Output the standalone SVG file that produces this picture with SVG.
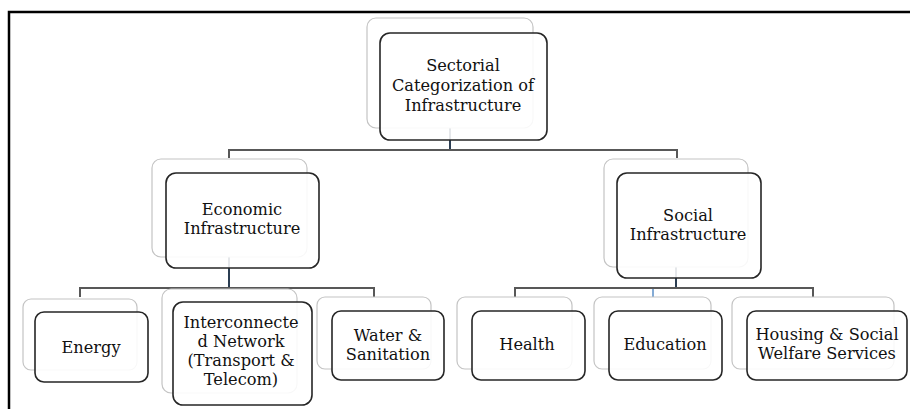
<svg xmlns="http://www.w3.org/2000/svg" width="910" height="409" viewBox="0 0 910 409">
<style>
.back{fill:#ffffff;fill-opacity:0.9;stroke:#c4c4c4;stroke-width:1.2}
.front{fill:#ffffff;fill-opacity:0.88;stroke:#262626;stroke-width:1.6}
text{font-family:'DejaVu Serif','Liberation Serif',serif;font-size:16.2px;fill:#111111;text-anchor:middle}
.h{fill:none;stroke:#585858;stroke-width:2}
.v{fill:none;stroke:#2b3d52;stroke-width:2}
.frame{fill:none;stroke:#000;stroke-width:2.5}
</style>
<rect x="0" y="0" width="910" height="409" fill="#ffffff"/>
<path class="frame" d="M9,409 V12 H910"/>
<g id="connectors">
<path class="v" d="M450,128 V150"/>
<path class="h" d="M229,158 V150 H677 V158"/>
<path class="v" d="M229,257 V288"/>
<path class="h" d="M80,297 V288 H374 V297"/>
<path class="v" d="M676,267 V288"/>
<path class="h" d="M515,297 V288 H813 V297"/>
<path d="M653,289 V297" fill="none" stroke="#5b8fc7" stroke-width="1.5"/>
</g>
<g id="root">
<rect class="back" x="367" y="18" width="166" height="110" rx="9"/>
<rect class="front" x="380" y="33" width="167" height="107" rx="10"/>
<text x="463" y="71">Sectorial</text>
<text x="463" y="91">Categorization of</text>
<text x="463" y="111">Infrastructure</text>
</g>
<g id="economic">
<rect class="back" x="152" y="159" width="155" height="98" rx="9"/>
<rect class="front" x="166" y="173" width="153" height="95" rx="10"/>
<text x="242" y="215">Economic</text>
<text x="242" y="234">Infrastructure</text>
</g>
<g id="social">
<rect class="back" x="604" y="159" width="144" height="108" rx="9"/>
<rect class="front" x="617" y="173" width="144" height="105" rx="10"/>
<text x="688" y="221">Social</text>
<text x="688" y="240">Infrastructure</text>
</g>
<g id="energy">
<rect class="back" x="23" y="299" width="114" height="71" rx="8"/>
<rect class="front" x="35" y="312" width="113" height="70" rx="9"/>
<text x="91" y="353">Energy</text>
</g>
<g id="network">
<rect class="back" x="162" y="289" width="135" height="104" rx="9"/>
<rect class="front" x="173" y="302" width="139" height="103" rx="10"/>
<text x="241" y="328">Interconnecte</text>
<text x="241" y="347">d Network</text>
<text x="241" y="366">(Transport &amp;</text>
<text x="241" y="385">Telecom)</text>
</g>
<g id="water">
<rect class="back" x="317" y="297" width="114" height="72" rx="8"/>
<rect class="front" x="332" y="311" width="112" height="69" rx="9"/>
<text x="388" y="341">Water &amp;</text>
<text x="388" y="360">Sanitation</text>
</g>
<g id="health">
<rect class="back" x="457" y="297" width="115" height="72" rx="8"/>
<rect class="front" x="472" y="311" width="113" height="69" rx="9"/>
<text x="527" y="350">Health</text>
</g>
<g id="education">
<rect class="back" x="594" y="297" width="117" height="72" rx="8"/>
<rect class="front" x="609" y="311" width="113" height="69" rx="9"/>
<text x="665" y="350">Education</text>
</g>
<g id="housing">
<rect class="back" x="732" y="297" width="162" height="72" rx="8"/>
<rect class="front" x="747" y="311" width="160" height="69" rx="9"/>
<text x="827" y="340">Housing &amp; Social</text>
<text x="827" y="359">Welfare Services</text>
</g>
</svg>
